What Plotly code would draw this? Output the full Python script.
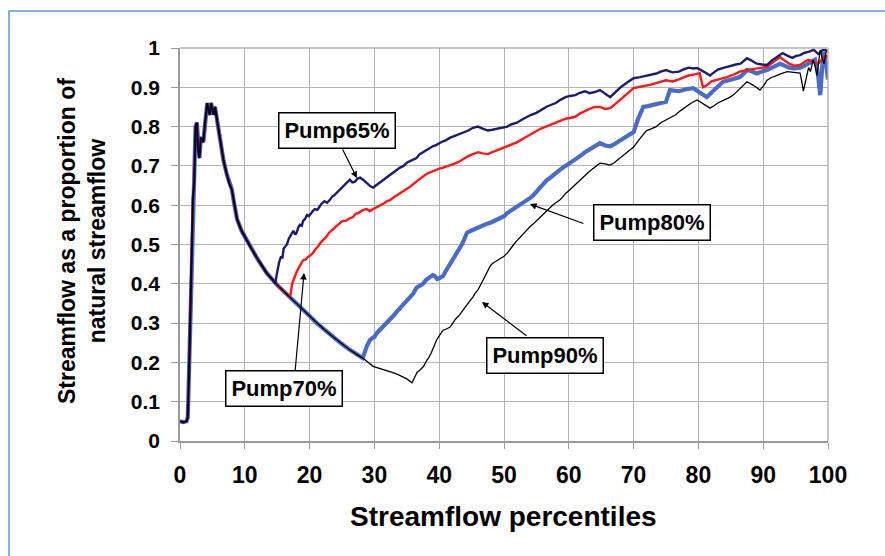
import plotly.graph_objects as go

# ---------------- data ----------------
# shared (natural / low-flow) part of all curves
base_x = [0, 0.5, 1.0, 1.2, 1.4, 1.6, 1.8, 2.0, 2.2, 2.4, 2.6, 2.8, 3.0, 3.2, 3.4, 3.6, 3.8, 4.0,
          4.2, 4.4, 4.6, 4.8, 5.0, 5.2, 5.4, 5.7, 6.0, 6.3, 6.7, 7.2, 7.6, 8.0, 8.4, 8.8, 9.5,
          10.3, 11.0, 11.8, 12.6, 13.4, 14.2, 14.7, 15.0, 16.0, 17.0, 18.0, 19.0, 20.0, 21.1,
          22.3, 23.6, 24.9, 26.2, 27.2, 28.2]
base_y = [0.05, 0.048, 0.05, 0.06, 0.18, 0.32, 0.42, 0.62, 0.66, 0.80, 0.81, 0.74, 0.72, 0.77,
          0.77, 0.76, 0.80, 0.84, 0.86, 0.84, 0.83, 0.86, 0.84, 0.83, 0.85, 0.82, 0.79, 0.75,
          0.715, 0.68, 0.655, 0.64, 0.60, 0.565, 0.535, 0.51, 0.49, 0.468, 0.447, 0.427, 0.412,
          0.402, 0.397, 0.381, 0.366, 0.350, 0.334, 0.318, 0.300, 0.283, 0.265, 0.248, 0.232,
          0.221, 0.211]

p65_x = [15.0, 15.3, 15.6, 15.8, 16.0, 16.3, 16.5, 16.8, 17.0, 17.3, 17.5, 17.8, 18.0, 18.3,
         18.5, 18.8, 19.0, 19.3, 19.6, 19.9, 20.2, 20.5, 20.8, 21.2, 21.6, 21.9, 22.3, 22.7,
         23.1, 23.5, 23.8, 24.2, 24.7, 25.1, 25.5, 25.8, 26.2, 26.6, 27.0, 27.4, 27.8, 28.3,
         28.7, 29.0, 29.4, 29.8, 30.2, 30.6, 31.0, 31.4, 31.9, 32.4, 32.9, 33.4, 33.9, 34.5,
         35.0, 35.5, 36.0, 36.5, 37.0, 37.5, 37.9, 38.3, 38.7, 39.0, 39.5, 40.0, 40.5, 41.0,
         41.4, 41.7, 42.3, 43, 43.7, 44.5, 45.2, 46, 46.7, 47.5, 48.2, 49, 49.7, 50.5, 51.2,
         52, 52.8, 53.5, 54.2, 55, 55.7, 56.5, 57.2, 58, 58.7, 59.5, 60.2, 61, 61.7, 62.5,
         63.2, 64, 64.8, 65.6, 66.4, 67.2, 68, 69, 70, 71, 72, 72.8, 73.5, 74.2, 75, 76, 77,
         77.8, 78.5, 79.2, 79.8, 80.8, 81.8, 82.4, 83, 84, 85, 85.8, 86.5, 87, 87.5, 88.2, 89,
         89.8, 90.6, 91.3, 92, 92.5, 93, 93.8, 94.5, 95.1, 95.7, 96.4, 97, 97.8, 98.5, 99.2,
         99.8]
p65_y = [0.43, 0.455, 0.47, 0.465, 0.49, 0.495, 0.50, 0.515, 0.52, 0.53, 0.535, 0.525, 0.53,
         0.545, 0.55, 0.548, 0.56, 0.565, 0.575, 0.572, 0.58, 0.585, 0.59, 0.588, 0.598, 0.605,
         0.61, 0.606, 0.613, 0.622, 0.625, 0.632, 0.64, 0.648, 0.655, 0.66, 0.665, 0.658, 0.66,
         0.668, 0.67, 0.664, 0.658, 0.652, 0.648, 0.645, 0.65, 0.655, 0.66, 0.664, 0.672, 0.678,
         0.683, 0.69, 0.695, 0.70, 0.708, 0.712, 0.716, 0.72, 0.73, 0.735, 0.738, 0.742, 0.748,
         0.75, 0.753, 0.758, 0.762, 0.765, 0.77, 0.772, 0.776, 0.78, 0.786, 0.79, 0.797, 0.80,
         0.795, 0.79, 0.792, 0.795, 0.798, 0.80, 0.806, 0.81, 0.818, 0.825, 0.83, 0.835, 0.843,
         0.85, 0.855, 0.86, 0.868, 0.875, 0.878, 0.88, 0.886, 0.89, 0.885, 0.888, 0.893, 0.885,
         0.875, 0.888, 0.90, 0.912, 0.923, 0.926, 0.93, 0.933, 0.935, 0.94, 0.944, 0.938, 0.94,
         0.946, 0.95, 0.948, 0.949, 0.94, 0.93, 0.938, 0.945, 0.95, 0.955, 0.958, 0.96, 0.968,
         0.974, 0.968, 0.96, 0.958, 0.957, 0.968, 0.975, 0.982, 0.987, 0.98, 0.975, 0.98, 0.982,
         0.988, 0.99, 0.995, 0.985, 0.995, 0.995]

p70_x = [17.3, 17.6, 18.0, 18.3, 18.5, 18.8, 19.0, 19.4, 19.7, 20.1, 20.5, 20.9, 21.3, 21.7,
         22.0, 22.3, 22.6, 23.0, 23.4, 23.7, 24.0, 24.4, 24.7, 25.1, 25.6, 26.1, 26.7, 27.1,
         27.5, 27.9, 28.3, 28.8, 29.3, 29.8, 30.4, 30.9, 31.5, 31.9, 32.4, 33.0, 33.5, 34.0,
         34.5, 35.0, 35.5, 36.1, 36.8, 37.4, 38.1, 38.8, 39.5, 40.0, 40.5, 41.1, 41.7, 42.3,
         43, 43.7, 44.5, 45.2, 46, 46.7, 47.5, 48.2, 49, 49.7, 50.5, 51.2, 52, 52.8, 53.5,
         54.2, 55, 55.7, 56.5, 57.2, 58, 58.7, 59.5, 60.2, 61, 61.7, 62.5, 63.2, 64, 64.8,
         65.6, 66.4, 67.2, 68, 69, 70, 71.2, 72.5, 73.7, 75, 76, 77, 77.8, 78.5, 79.4, 80.2,
         80.7, 81.3, 82, 83.2, 84.4, 85.4, 86.4, 87.2, 88, 89.3, 90.6, 91.6, 92.6, 93.3, 94,
         94.8, 95.7, 96.4, 97, 97.8, 98.5, 99.3, 100]
p70_y = [0.40, 0.415, 0.43, 0.44, 0.445, 0.455, 0.46, 0.462, 0.468, 0.472, 0.478, 0.488, 0.495,
         0.505, 0.51, 0.516, 0.52, 0.53, 0.535, 0.54, 0.545, 0.55, 0.555, 0.56, 0.56, 0.566,
         0.57, 0.578, 0.58, 0.585, 0.588, 0.59, 0.585, 0.59, 0.595, 0.598, 0.605, 0.61, 0.613,
         0.62, 0.625, 0.63, 0.635, 0.642, 0.647, 0.655, 0.665, 0.672, 0.68, 0.685, 0.69, 0.693,
         0.695, 0.698, 0.70, 0.705, 0.71, 0.718, 0.725, 0.73, 0.735, 0.732, 0.73, 0.735, 0.74,
         0.745, 0.75, 0.755, 0.76, 0.768, 0.775, 0.782, 0.79, 0.795, 0.80, 0.805, 0.81, 0.815,
         0.82, 0.822, 0.825, 0.833, 0.84, 0.845, 0.85, 0.85, 0.845, 0.847, 0.858, 0.87, 0.885,
         0.898, 0.902, 0.906, 0.912, 0.918, 0.915, 0.92, 0.926, 0.93, 0.933, 0.936, 0.90, 0.905,
         0.915, 0.92, 0.926, 0.932, 0.94, 0.943, 0.945, 0.948, 0.952, 0.965, 0.977, 0.968, 0.96,
         0.955, 0.957, 0.965, 0.97, 0.965, 0.96, 0.975, 0.98]

p80_x = [28.8, 29.3, 29.7, 30.0, 30.4, 30.7, 31.1, 31.4, 31.8, 32.2, 32.6, 33.0, 33.5, 34.0,
         34.5, 35.0, 35.5, 36.0, 36.5, 37.0, 37.5, 38.0, 38.6, 39.0, 39.3, 39.7, 40.1, 40.6,
         41.0, 41.5, 42.0, 42.5, 43.0, 43.5, 43.9, 44.3, 44.9, 45.5, 46.1, 46.8, 47.4, 48.0,
         48.7, 49.4, 50.0, 50.5, 51.0, 51.5, 52.0, 52.5, 53.0, 53.5, 54.0, 54.5, 55.0, 55.5,
         56.0, 56.6, 57.0, 57.5, 58.0, 58.5, 59.0, 59.5, 60.0, 60.5, 61.0, 61.5, 62.0, 62.5,
         63.0, 63.5, 64.2, 64.8, 65.6, 66.4, 67.0, 67.5, 68.2, 69, 69.5, 70, 70.7, 71.5, 72.2,
         73, 74, 75, 75.6, 76.3, 77, 78.1, 79.2, 80.2, 81.3, 81.9, 82.5, 83.2, 83.8, 85.1,
         86.4, 87.0, 87.5, 88.3, 89, 89.8, 90.6, 91.6, 92.6, 93.3, 94, 94.8, 95.7, 96.4, 97,
         97.5, 98, 98.4, 98.8, 99.1, 99.3, 99.7, 100]
p80_y = [0.24, 0.257, 0.262, 0.265, 0.275, 0.28, 0.285, 0.29, 0.30, 0.305, 0.312, 0.32, 0.33,
         0.34, 0.35, 0.36, 0.366, 0.375, 0.39, 0.395, 0.40, 0.41, 0.417, 0.422, 0.42, 0.412,
         0.415, 0.42, 0.432, 0.445, 0.458, 0.47, 0.485, 0.50, 0.515, 0.53, 0.535, 0.54, 0.545,
         0.55, 0.553, 0.556, 0.562, 0.567, 0.572, 0.58, 0.585, 0.59, 0.595, 0.60, 0.607, 0.613,
         0.618, 0.625, 0.635, 0.645, 0.655, 0.664, 0.668, 0.675, 0.683, 0.69, 0.695, 0.70,
         0.705, 0.71, 0.715, 0.72, 0.728, 0.735, 0.74, 0.745, 0.752, 0.758, 0.752, 0.75, 0.755,
         0.76, 0.768, 0.775, 0.78, 0.786, 0.82, 0.85, 0.852, 0.855, 0.86, 0.863, 0.893, 0.892,
         0.89, 0.895, 0.898, 0.887, 0.875, 0.885, 0.895, 0.905, 0.914, 0.92, 0.926, 0.935,
         0.944, 0.94, 0.935, 0.94, 0.944, 0.952, 0.96, 0.955, 0.95, 0.948, 0.95, 0.955, 0.96,
         0.965, 0.97, 0.94, 0.88, 0.95, 0.99, 0.96, 0.92]

p90_x = [29.8, 30.6, 31.5, 32.5, 33.5, 34.3, 35.0, 35.8, 36.2, 36.6, 37.0, 37.3, 37.6, 38.1,
         38.4, 38.8, 39.2, 39.6, 40.1, 40.6, 41.1, 41.7, 42.1, 42.5, 43.0, 43.5, 44.2, 44.8,
         45.2, 45.5, 46.0, 46.5, 47.1, 47.8, 48.1, 48.5, 49.0, 49.5, 50.0, 50.5, 51.0, 51.5,
         51.9, 52.3, 52.6, 53.0, 53.5, 54.0, 54.5, 55.0, 55.6, 56.0, 56.5, 57.0, 57.5, 58.0,
         58.6, 59.0, 59.5, 60.0, 60.5, 61.1, 61.7, 62.1, 62.5, 63.0, 63.5, 64.2, 64.8, 65.6,
         66.4, 67.0, 67.5, 68.2, 69, 69.5, 70, 71, 72, 72.8, 73.5, 74.2, 75, 75.8, 76.5, 77.2,
         78, 78.9, 79.8, 80.8, 81.8, 82.4, 83, 84, 84.9, 85.5, 86, 86.8, 87.5, 88.5, 89.5,
         90.1, 90.6, 91.3, 92, 92.8, 93.7, 94.7, 95.7, 96.0, 96.2, 96.6, 97.0, 97.3, 97.7,
         98.0, 98.3, 98.6, 98.8, 99.1, 99.4, 99.7, 100]
p90_y = [0.19, 0.186, 0.182, 0.176, 0.17, 0.164, 0.158, 0.148, 0.16, 0.175, 0.18, 0.184, 0.19,
         0.206, 0.212, 0.225, 0.24, 0.257, 0.27, 0.282, 0.285, 0.29, 0.30, 0.31, 0.318, 0.33,
         0.345, 0.358, 0.366, 0.375, 0.385, 0.40, 0.42, 0.443, 0.45, 0.455, 0.46, 0.465, 0.47,
         0.478, 0.49, 0.50, 0.508, 0.515, 0.522, 0.53, 0.538, 0.545, 0.552, 0.56, 0.57, 0.578,
         0.585, 0.592, 0.60, 0.606, 0.613, 0.62, 0.63, 0.637, 0.645, 0.655, 0.664, 0.67, 0.675,
         0.683, 0.69, 0.70, 0.707, 0.705, 0.702, 0.708, 0.715, 0.725, 0.735, 0.742, 0.748, 0.77,
         0.79, 0.795, 0.80, 0.81, 0.817, 0.822, 0.83, 0.84, 0.85, 0.86, 0.868, 0.858, 0.847,
         0.853, 0.86, 0.868, 0.875, 0.882, 0.89, 0.902, 0.914, 0.905, 0.893, 0.905, 0.918,
         0.925, 0.93, 0.935, 0.94, 0.938, 0.936, 0.91, 0.89, 0.92, 0.95, 0.94, 0.97, 0.955,
         0.93, 0.97, 0.995, 0.975, 0.96, 0.99, 0.995]

x_ticks = list(range(0, 101, 10))
y_ticks = [0, 0.1, 0.2, 0.3, 0.4, 0.5, 0.6, 0.7, 0.8, 0.9, 1]
y_tick_text = ["0", "0.1", "0.2", "0.3", "0.4", "0.5", "0.6", "0.7", "0.8", "0.9", "1"]


def branch(start_x, bx, by):
    xs = [x for x in base_x if x <= start_x]
    ys = base_y[:len(xs)]
    return xs + bx, ys + by


FONT = "Liberation Sans, Arial, sans-serif"

fig = go.Figure()
series = [
    ("Pump80%", 28.2, p80_x, p80_y, "#4a6cc4", 4.2),
    ("Pump70%", 17.0, p70_x, p70_y, "#ff1a1a", 2.4),
    ("Pump65%", 14.7, p65_x, p65_y, "#1d1d6e", 2.4),
    ("Pump90%", 28.2, p90_x, p90_y, "#000000", 1.3),
]
for name, sx, bx, by, col, w in series:
    xs, ys = branch(sx, bx, by)
    fig.add_trace(go.Scatter(x=xs, y=ys, mode="lines", name=name,
                             line=dict(color=col, width=w), showlegend=False))

# plot area in pixels: x 180..828, y 48..441
L, R, T, B = 180, 828, 48, 441
W, H = 885, 556


def px(xp):
    return (xp - L) / (R - L)


def py(yp):
    return (B - yp) / (B - T)


annotations = []
# labelled boxes
boxes = [("Pump65%", 336.5, 130.5), ("Pump70%", 284, 388),
         ("Pump80%", 652, 222.5), ("Pump90%", 545, 355.5)]
for txt, cx, cy in boxes:
    annotations.append(dict(x=px(cx), y=py(cy), xref="paper", yref="paper",
                            text="<b>%s</b>" % txt, showarrow=False,
                            font=dict(family=FONT, size=22, color="black"),
                            bgcolor="white", bordercolor="black", borderwidth=1.5,
                            borderpad=3, width=109, height=28,
                            xanchor="center", yanchor="middle"))
# arrows (tip in data coords, tail offset in pixels)
arrows = [(27.3, 0.669, -15, -30), (19.14, 0.4275, -9, 99),
          (54.0, 0.603, 55, 20), (46.6, 0.354, 46, 35)]
for ax_, ay_, dx, dy in arrows:
    annotations.append(dict(x=ax_, y=ay_, xref="x", yref="y", text="", showarrow=True,
                            ax=dx, ay=dy, arrowhead=2, arrowsize=1.1, arrowwidth=1.2,
                            arrowcolor="black", standoff=0))
# y-axis title (two lines)
annotations.append(dict(x=px(82), y=py(241), xref="paper", yref="paper",
                        text="<b>Streamflow as a proportion of<br>natural streamflow</b>",
                        showarrow=False, textangle=-90,
                        font=dict(family=FONT, size=23, color="black"),
                        xanchor="center", yanchor="middle"))
# x-axis title
annotations.append(dict(x=px(503), y=py(516), xref="paper", yref="paper",
                        text="<b>Streamflow percentiles</b>", showarrow=False,
                        font=dict(family=FONT, size=28, color="black"),
                        xanchor="center", yanchor="middle"))

shapes = [dict(type="rect", xref="paper", yref="paper",
               x0=px(9), x1=px(W + 10), y0=py(H + 10), y1=py(11),
               line=dict(color="#5b9bd5", width=1.5), layer="below")]

grid = "#b3b3b3"
fig.update_layout(
    width=W, height=H,
    margin=dict(l=L, r=W - R, t=T, b=H - B),
    paper_bgcolor="white", plot_bgcolor="white",
    annotations=annotations, shapes=shapes,
    xaxis=dict(range=[0, 100], tickvals=x_ticks, ticktext=[str(v) for v in x_ticks],
               showgrid=True, gridcolor=grid, gridwidth=1.3, zeroline=False,
               showline=True, linecolor="#9a9a9a", linewidth=1.5, mirror=False,
               ticks="outside", ticklen=6, tickcolor="#9a9a9a", tickwidth=1.3,
               tickfont=dict(family=FONT, size=23, color="black", weight="bold"),
               ticklabelstandoff=7, fixedrange=True),
    yaxis=dict(range=[0, 1], tickvals=y_ticks, ticktext=y_tick_text,
               showgrid=True, gridcolor=grid, gridwidth=1.3, zeroline=False,
               showline=True, linecolor="#9a9a9a", linewidth=1.5,
               ticks="outside", ticklen=7, tickcolor="#9a9a9a", tickwidth=1.3,
               tickfont=dict(family=FONT, size=21, color="black", weight="bold"),
               ticklabelstandoff=7, fixedrange=True),
)
fig.add_shape(type="line", xref="paper", yref="paper", x0=1, x1=1, y0=0, y1=1,
              line=dict(color=grid, width=1.5))
fig.add_shape(type="line", xref="paper", yref="paper", x0=0, x1=1, y0=1, y1=1,
              line=dict(color=grid, width=1.5))

fig.write_html("out.html")
